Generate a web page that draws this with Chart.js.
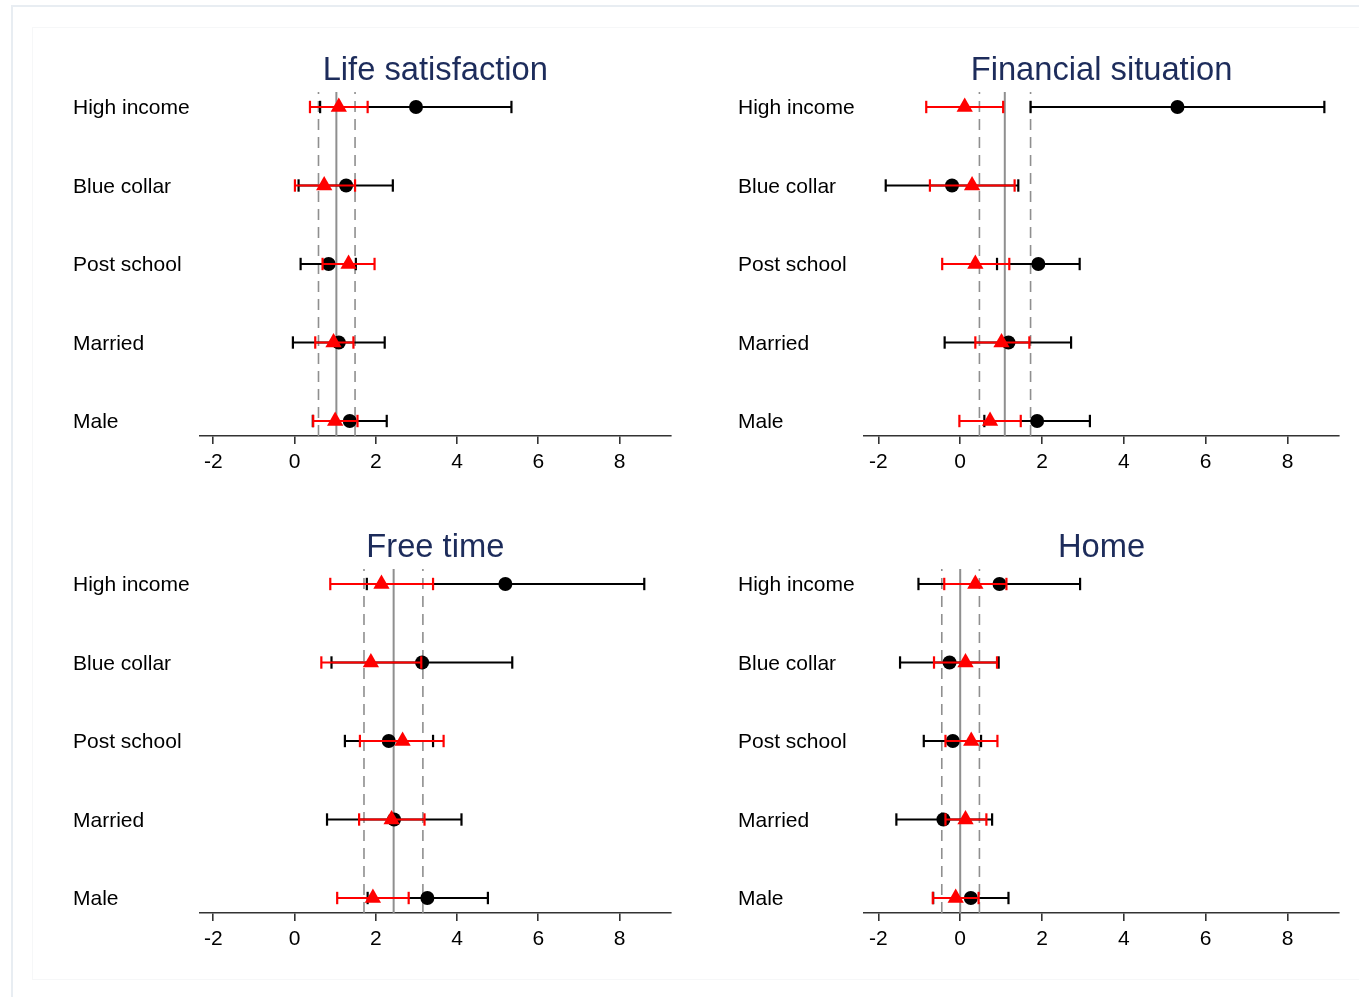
<!DOCTYPE html>
<html>
<head>
<meta charset="utf-8">
<title>Coefficient plots</title>
<script src="https://cdn.jsdelivr.net/npm/chart.js@4.4.1/dist/chart.umd.min.js"></script>
<style>
  html, body { margin: 0; padding: 0; background: #ffffff; }
  #page { position: relative; width: 1359px; height: 997px; overflow: hidden; background: #ffffff; }
  #outer { position: absolute; left: 11px; top: 5px; width: 1360px; height: 1000px;
           border-left: 2px solid #e8edf2; border-top: 2px solid #e8edf2; box-sizing: border-box; }
  #inner { position: absolute; left: 32px; top: 27px; width: 1340px; height: 953px;
           border: 1px solid #f6f7f8; box-sizing: border-box; }
  canvas { position: absolute; }
</style>
</head>
<body>
<div id="page">
  <div id="outer"></div>
  <div id="inner"></div>
  <canvas id="c1" width="680" height="500" style="left:0px;top:0px;"></canvas>
  <canvas id="c2" width="679" height="500" style="left:680px;top:0px;"></canvas>
  <canvas id="c3" width="680" height="500" style="left:0px;top:477px;"></canvas>
  <canvas id="c4" width="679" height="500" style="left:680px;top:477px;"></canvas>
</div>
<script>
// Row labels, listed top to bottom
const categories = ['High income', 'Blue collar', 'Post school', 'Married', 'Male'];
const xTicks = [-2, 0, 2, 4, 6, 8];

// Life satisfaction
const lifeBlackEst = [2.99, 1.27, 0.84, 1.09, 1.36];
const lifeBlackLo  = [0.63, 0.10, 0.15, -0.04, 0.45];
const lifeBlackHi  = [5.34, 2.42, 1.51, 2.22, 2.27];
const lifeRedEst   = [1.09, 0.73, 1.33, 0.96, 1.00];
const lifeRedLo    = [0.38, 0.01, 0.69, 0.51, 0.46];
const lifeRedHi    = [1.80, 1.49, 1.97, 1.45, 1.55];
const lifeRef      = [0.59, 1.03, 1.49];

// Financial situation
const finBlackEst = [5.31, -0.20, 1.91, 1.18, 1.88];
const finBlackLo  = [1.72, -1.82, 0.90, -0.38, 0.59];
const finBlackHi  = [8.90, 1.42, 2.92, 2.71, 3.17];
const finRedEst   = [0.11, 0.29, 0.37, 1.01, 0.73];
const finRedLo    = [-0.83, -0.74, -0.44, 0.37, -0.02];
const finRedHi    = [1.05, 1.33, 1.20, 1.69, 1.48];
const finRef      = [0.47, 1.09, 1.72];

// Free time
const freeBlackEst = [5.19, 3.14, 2.32, 2.45, 3.27];
const freeBlackLo  = [1.78, 0.91, 1.24, 0.80, 1.80];
const freeBlackHi  = [8.61, 5.36, 3.41, 4.11, 4.76];
const freeRedEst   = [2.14, 1.88, 2.66, 2.39, 1.93];
const freeRedLo    = [0.88, 0.66, 1.61, 1.59, 1.05];
const freeRedHi    = [3.41, 3.12, 3.67, 3.20, 2.81];
const freeRef      = [1.71, 2.44, 3.16];

// Home
const homeBlackEst = [0.96, -0.26, -0.18, -0.41, 0.26];
const homeBlackLo  = [-1.02, -1.47, -0.89, -1.56, -0.66];
const homeBlackHi  = [2.93, 0.94, 0.51, 0.78, 1.18];
const homeRedEst   = [0.37, 0.13, 0.27, 0.13, -0.11];
const homeRedLo    = [-0.39, -0.64, -0.36, -0.36, -0.67];
const homeRedHi    = [1.13, 0.90, 0.91, 0.64, 0.45];
const homeRef      = [-0.45, 0.00, 0.47];

const FONT = '"Liberation Sans", Arial, Helvetica, sans-serif';
const Y_MIN = 0.809, Y_MAX = 5.191;
const rowY = i => categories.length - i;

// Panel title drawn centred over the plot area
const panelTitle = {
  id: 'panelTitle',
  afterDraw(chart, args, opts) {
    const ca = chart.chartArea;
    const ctx = chart.ctx;
    ctx.save();
    ctx.font = '32.7px ' + FONT;
    ctx.fillStyle = '#1d2c5b';
    ctx.textAlign = 'center';
    ctx.textBaseline = 'alphabetic';
    ctx.fillText(opts.text, (ca.left + ca.right) / 2, opts.baseline);
    ctx.restore();
  }
};

function errorBarSets(lo, hi, color, order) {
  return lo.map((l, i) => ({
    type: 'line',
    data: [{ x: l, y: rowY(i) }, { x: hi[i], y: rowY(i) }],
    borderColor: color,
    borderWidth: 2.2,
    pointStyle: 'line',
    pointRotation: 90,
    pointRadius: 6.2,
    pointBorderWidth: 2.2,
    pointBorderColor: color,
    pointBackgroundColor: color,
    fill: false,
    order: order
  }));
}

function refLineSets(ref) {
  const mk = (v, dashed) => ({
    type: 'line',
    data: [{ x: v, y: Y_MIN }, { x: v, y: Y_MAX }],
    borderColor: '#8f8f8f',
    borderWidth: dashed ? 1.6 : 2,
    borderDash: dashed ? [11, 7] : [],
    pointRadius: 0,
    fill: false,
    order: 20
  });
  return [mk(ref[0], true), mk(ref[1], false), mk(ref[2], true)];
}

function makePanel(id, title, opts) {
  const datasets = [].concat(
    refLineSets(opts.ref),
    errorBarSets(opts.blackLo, opts.blackHi, '#000000', 10),
    [{
      type: 'scatter',
      data: opts.blackEst.map((v, i) => ({ x: v, y: rowY(i) })),
      pointStyle: 'circle',
      pointRadius: 7,
      pointBorderWidth: 0,
      pointBackgroundColor: '#000000',
      order: 8
    }],
    errorBarSets(opts.redLo, opts.redHi, '#ff0000', 6),
    [{
      type: 'scatter',
      data: opts.redEst.map((v, i) => ({ x: v, y: rowY(i) })),
      pointStyle: 'triangle',
      pointRadius: 9.4,
      pointBorderWidth: 0,
      pointBackgroundColor: '#ff0000',
      order: 4
    }]
  );

  new Chart(document.getElementById(id), {
    type: 'scatter',
    data: { datasets },
    plugins: [panelTitle],
    options: {
      responsive: false,
      animation: false,
      events: [],
      clip: false,
      layout: { padding: { left: opts.labelLeft, right: opts.padRight, top: 92, bottom: 0 } },
      plugins: {
        legend: { display: false },
        tooltip: { enabled: false },
        panelTitle: { text: title, baseline: 80 }
      },
      scales: {
        x: {
          type: 'linear',
          min: opts.xMin,
          max: opts.xMax,
          afterBuildTicks: s => { s.ticks = xTicks.map(v => ({ value: v })); },
          afterFit: s => { s.height = 64; },
          grid: { drawOnChartArea: false, drawTicks: true, tickLength: 8, color: '#333333', lineWidth: 1.6 },
          border: { display: true, color: '#333333', width: 1.6 },
          ticks: { color: '#000000', font: { family: FONT, size: 21 }, padding: 6, maxRotation: 0 }
        },
        y: {
          type: 'linear',
          min: Y_MIN,
          max: Y_MAX,
          afterBuildTicks: s => { s.ticks = [5, 4, 3, 2, 1].map(v => ({ value: v })); },
          afterFit: s => { s.width = opts.axisWidth; },
          grid: { display: false },
          border: { display: false },
          ticks: {
            color: '#000000',
            font: { family: FONT, size: 21 },
            crossAlign: 'far',
            padding: 0,
            labelOffset: 1.5,
            callback: v => categories[categories.length - v]
          }
        }
      }
    }
  });
}

makePanel('c1', 'Life satisfaction', {
  blackEst: lifeBlackEst, blackLo: lifeBlackLo, blackHi: lifeBlackHi,
  redEst: lifeRedEst, redLo: lifeRedLo, redHi: lifeRedHi, ref: lifeRef,
  labelLeft: 73, axisWidth: 127, padRight: 5, xMin: -2.327, xMax: 9.258
});
makePanel('c2', 'Financial situation', {
  blackEst: finBlackEst, blackLo: finBlackLo, blackHi: finBlackHi,
  redEst: finRedEst, redLo: finRedLo, redHi: finRedHi, ref: finRef,
  labelLeft: 58, axisWidth: 126, padRight: 20, xMin: -2.351, xMax: 9.258
});
makePanel('c3', 'Free time', {
  blackEst: freeBlackEst, blackLo: freeBlackLo, blackHi: freeBlackHi,
  redEst: freeRedEst, redLo: freeRedLo, redHi: freeRedHi, ref: freeRef,
  labelLeft: 73, axisWidth: 127, padRight: 5, xMin: -2.327, xMax: 9.258
});
makePanel('c4', 'Home', {
  blackEst: homeBlackEst, blackLo: homeBlackLo, blackHi: homeBlackHi,
  redEst: homeRedEst, redLo: homeRedLo, redHi: homeRedHi, ref: homeRef,
  labelLeft: 58, axisWidth: 126, padRight: 20, xMin: -2.351, xMax: 9.258
});
</script>
</body>
</html>
